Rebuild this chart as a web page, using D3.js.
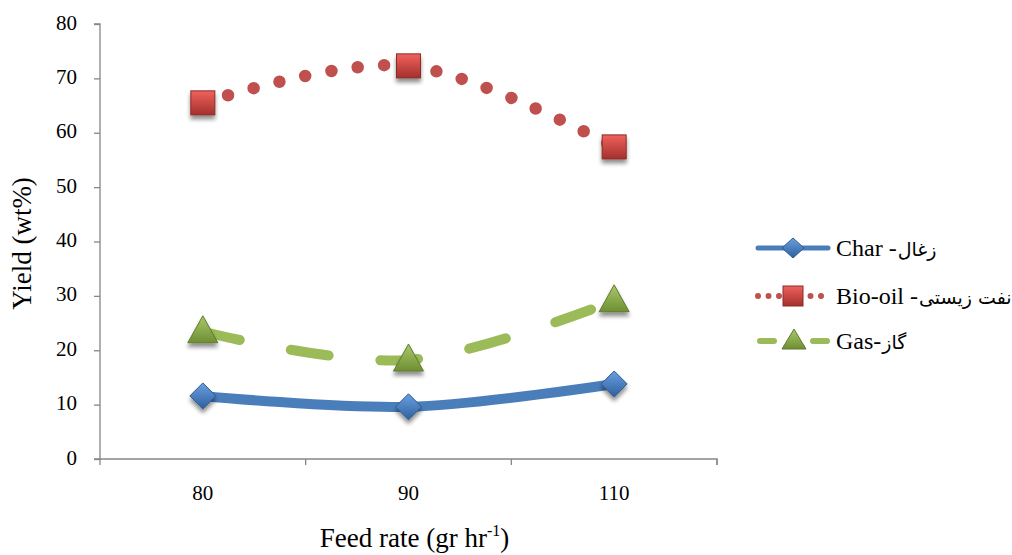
<!DOCTYPE html>
<html><head><meta charset="utf-8">
<script src="https://cdn.jsdelivr.net/npm/d3@7"></script>
<style>
html,body{margin:0;padding:0;background:#fff;}
svg{display:block;}
svg text{fill:#000;}
</style></head>
<body>
<svg id="c" width="1012" height="555"></svg>
<script>
const categories = ["80", "90", "110"];
const charValues = [11.6, 9.6, 13.8];
const bioOilValues = [65.5, 72.3, 57.4];
const gasValues = [23.4, 18.2, 29.1];
const yTicks = [0, 10, 20, 30, 40, 50, 60, 70, 80];
const seriesLatin = ["Char -", "Bio-oil -", "Gas-"];
const seriesPersian = ["زغال", "نفت زیستی", "گاز"];

const svg = d3.select("#c");
const m = {left: 100, right: 717, top: 24, bottom: 459};
const x = d3.scaleBand().domain(categories).range([m.left, m.right]).padding(0);
const y = d3.scaleLinear().domain([0, 80]).range([m.bottom, m.top]);

const defs = svg.append("defs");
const sh = defs.append("filter").attr("id","sh").attr("x","-50%").attr("y","-50%").attr("width","200%").attr("height","220%");
sh.append("feGaussianBlur").attr("in","SourceAlpha").attr("stdDeviation",2.2);
sh.append("feOffset").attr("dx",0).attr("dy",3.5).attr("result","o");
sh.append("feComponentTransfer").append("feFuncA").attr("type","linear").attr("slope",0.45);
const mg = sh.append("feMerge"); mg.append("feMergeNode"); mg.append("feMergeNode").attr("in","SourceGraphic");

function grad(id, c1, c2){
  const g = defs.append("linearGradient").attr("id",id).attr("x1",0).attr("y1",0).attr("x2",0).attr("y2",1);
  g.append("stop").attr("offset","0%").attr("stop-color",c1);
  g.append("stop").attr("offset","100%").attr("stop-color",c2);
}
grad("gBlue","#6aa0e0","#2f5f9e");
grad("gRed","#f0625c","#a3302c");
grad("gGreen","#a8c96a","#6f8e34");

const serif = "'Liberation Serif','Times New Roman',serif";
const arabicFont = "'DejaVu Sans','Noto Sans',sans-serif";

// axes
const yAxis = d3.axisLeft(y).tickValues(yTicks).tickSize(6).tickPadding(17);
const gy = svg.append("g").attr("transform",`translate(${m.left},0)`).call(yAxis);
const xAxis = d3.axisBottom(x).tickSize(0).tickPadding(26);
const gx = svg.append("g").attr("transform",`translate(0,${m.bottom})`).call(xAxis);
const bounds = categories.map(c => x(c)).concat([m.right]);
gx.selectAll(".btick").data(bounds).enter().append("line").attr("class","btick")
  .attr("x1",d=>d).attr("x2",d=>d).attr("y1",0).attr("y2",6).attr("stroke","#868686").attr("stroke-width",1.3);
[gx, gy].forEach(g => {
  g.attr("font-family", serif);
  g.select(".domain").attr("stroke","#868686").attr("stroke-width",1.3);
  g.selectAll(".tick line").attr("stroke","#868686").attr("stroke-width",1.3);
  g.selectAll(".tick text").attr("font-size",21).style("font-family", serif);
});
gy.selectAll(".tick text").attr("dy","0.24em");
gy.select(".domain").attr("d",`M-6,${m.top}H0V${m.bottom}H-6`);
gx.select(".domain").attr("d",`M${m.left},0H${m.right}V6`);

// axis titles
svg.append("text").attr("transform",`translate(31,${(m.top+m.bottom)/2+2}) rotate(-90)`)
  .attr("text-anchor","middle").attr("font-size",27).style("font-family", serif).text("Yield (wt%)");
const xt = svg.append("text").attr("x",(m.left+m.right)/2+6).attr("y",547).attr("text-anchor","middle").attr("font-size",27).style("font-family", serif);
xt.append("tspan").text("Feed rate (gr hr");
xt.append("tspan").attr("font-size",16).attr("dy",-11).text("-1");
xt.append("tspan").attr("dy",11).text(")");

const cx = d => x(d) + x.bandwidth()/2;
const line = d3.line().x(d => cx(d.c)).y(d => y(d.v)).curve(d3.curveCardinal.tension(0));
const mk = vals => categories.map((c,i) => ({c, v: vals[i]}));

const series = [
  {vals: charValues, color:"#4a7ebb", dash:null, w:10, cap:"butt", marker:"diamond", fill:"url(#gBlue)", stroke:"#2c5a92"},
  {vals: bioOilValues, color:"#c0504d", dash:"0,26.5", w:12.5, cap:"round", marker:"square", fill:"url(#gRed)", stroke:"#8c2b28"},
  {vals: gasValues, color:"#9bbb59", dash:"38,52", w:10, cap:"round", marker:"triangle", fill:"url(#gGreen)", stroke:"#5f7a2c"}
];

function drawMarker(g, type, px, py, s){
  if(type==="diamond"){
    g.append("path").attr("d",`M${px},${py-13}L${px+13},${py}L${px},${py+13}L${px-13},${py}Z`)
      .attr("fill",s.fill).attr("stroke",s.stroke).attr("stroke-width",1).attr("filter","url(#sh)");
  } else if(type==="square"){
    g.append("rect").attr("x",px-12).attr("y",py-12).attr("width",24).attr("height",24)
      .attr("fill",s.fill).attr("stroke",s.stroke).attr("stroke-width",1).attr("filter","url(#sh)");
  } else {
    g.append("path").attr("d",`M${px},${py-16}L${px+15},${py+11}L${px-15},${py+11}Z`)
      .attr("fill",s.fill).attr("stroke",s.stroke).attr("stroke-width",1).attr("filter","url(#sh)");
  }
}

series.forEach(s => {
  svg.append("path").datum(mk(s.vals)).attr("d",line).attr("fill","none")
    .attr("stroke",s.color).attr("stroke-width",s.w).attr("stroke-linecap",s.cap)
    .attr("stroke-dasharray",s.dash);
});
series.forEach(s => {
  const g = svg.append("g");
  mk(s.vals).forEach(d => drawMarker(g, s.marker, cx(d.c), y(d.v), s));
});

// legend
const legY = [248, 296, 341];
series.forEach((s,i) => {
  const g = svg.append("g");
  const ly = legY[i];
  if(s.marker==="triangle"){
    [[760,774],[813,827]].forEach(([a,b]) => g.append("line").attr("x1",a).attr("x2",b).attr("y1",ly).attr("y2",ly)
      .attr("stroke",s.color).attr("stroke-width",6).attr("stroke-linecap","round"));
  } else {
    g.append("line").attr("x1",758).attr("x2",828).attr("y1",ly).attr("y2",ly)
      .attr("stroke",s.color).attr("stroke-width",s.marker==="square"?6:5)
      .attr("stroke-linecap","round")
      .attr("stroke-dasharray", s.marker==="square" ? "0,10.5" : null);
  }
  const mx = s.marker==="triangle" ? 794 : 793;
  if(s.marker==="diamond"){
    g.append("path").attr("d",`M${mx},${ly-10}L${mx+11},${ly}L${mx},${ly+10}L${mx-11},${ly}Z`).attr("fill",s.fill).attr("stroke",s.stroke);
  } else if(s.marker==="square"){
    g.append("rect").attr("x",mx-10).attr("y",ly-10).attr("width",20).attr("height",20).attr("fill",s.fill).attr("stroke",s.stroke);
  } else {
    g.append("path").attr("d",`M${mx},${ly-12}L${mx+12},${ly+8}L${mx-12},${ly+8}Z`).attr("fill",s.fill).attr("stroke",s.stroke);
  }
  const t1 = g.append("text").attr("x",836).attr("y",ly+8).attr("font-size",24).style("font-family", serif).text(seriesLatin[i]);
  const w = t1.node().getComputedTextLength();
  g.append("text").attr("x",836 + w + 1).attr("y",ly+8).attr("font-size",19).style("font-family", arabicFont)
    .text(seriesPersian[i]);
});
</script>
</body></html>
